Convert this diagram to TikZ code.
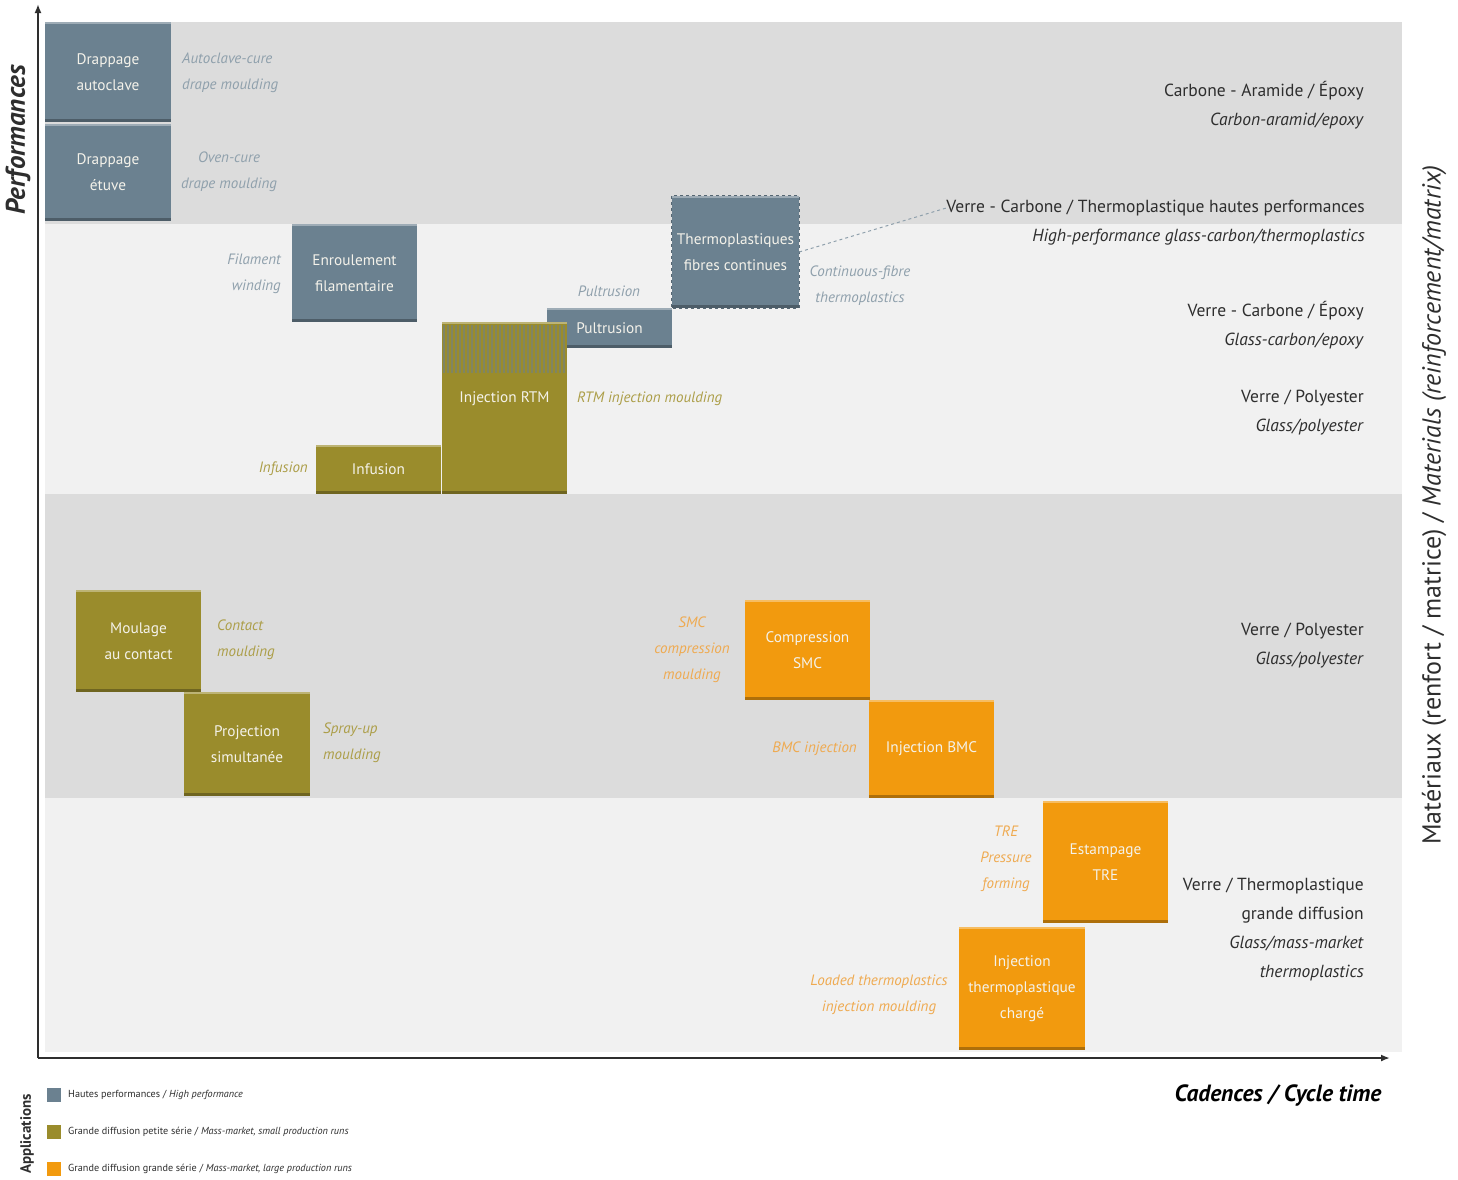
\documentclass[tikz,border=0pt]{standalone}
\usepackage{fontspec}
\setmainfont{PT Sans}
\usetikzlibrary{arrows.meta}
\definecolor{hp}{HTML}{6B8190}
\definecolor{sp}{HTML}{9A8C2C}
\definecolor{lp}{HTML}{F29A0E}
\definecolor{banddark}{HTML}{DCDCDC}
\definecolor{bandlight}{HTML}{F1F1F1}
\definecolor{lblhpc}{HTML}{8FA0AC}
\definecolor{lblspc}{HTML}{AC9E48}
\definecolor{lblorc}{HTML}{EFAA50}
\definecolor{mattxt}{HTML}{2E2E2E}
\definecolor{boxtxtc}{HTML}{F4F2EA}
\tikzset{
  proc/.style={fill=#1, text=boxtxtc, align=center, inner sep=0pt,
    font=\fontsize{15.3}{26}\selectfont,
    path picture={
      \fill[#1!72!black] (path picture bounding box.south west) rectangle ([yshift=3pt]path picture bounding box.south east);
      \fill[white, opacity=0.35] (path picture bounding box.north west) rectangle ([yshift=-2pt]path picture bounding box.north east);
    }},
  lbl/.style={inner sep=0pt, font=\fontsize{15}{26}\selectfont\itshape, text=#1},
  mat/.style={inner sep=0pt, text=mattxt, align=right, anchor=east, font=\fontsize{17.5}{29}\selectfont},
  legsq/.style={fill=#1, minimum size=14pt, inner sep=0pt},
  legtxt/.style={inner sep=0pt, anchor=west, text=mattxt, font=\fontsize{10.2}{12}\selectfont},
  axis/.style={draw=mattxt, line width=1.8pt}
}
\begin{document}
\begin{tikzpicture}[x=1pt,y=-1pt]
\useasboundingbox[fill=white] (0,0) rectangle (1458,1179);
% bands
\fill[banddark] (45,22) rectangle (1402,224);
\fill[bandlight] (45,224) rectangle (1402,494);
\fill[banddark] (45,494) rectangle (1402,798);
\fill[bandlight] (45,798) rectangle (1402,1052);

% axes
\coordinate (o) at (38,1058);
\coordinate (ytop) at (38,4);
\coordinate (xend) at (1390,1058);
\draw[axis, -{Latex[length=9pt,width=7pt]}] (o) -- (ytop);
\draw[axis, -{Latex[length=9pt,width=7pt]}] (o) -- (xend);

% high performance boxes
\node[proc=hp, minimum width=126pt, minimum height=100pt] (da) at (108,72) {Drappage\\autoclave};
\node[proc=hp, minimum width=126pt, minimum height=97pt] (de) at (108,172.5) {Drappage\\étuve};
\node[proc=hp, minimum width=125pt, minimum height=98pt] (ef) at (354.5,273) {Enroulement\\filamentaire};
\node[proc=hp, minimum width=125pt, minimum height=40pt] (pu) at (609.5,328) {Pultrusion};
\node[proc=hp, minimum width=127pt, minimum height=112pt] (tfc) at (735.5,252) {Thermoplastiques\\fibres continues};
\draw[draw=hp!80!black, dashed, line width=1pt] (tfc.north west) rectangle (tfc.south east);

% small series boxes
\node[proc=sp, minimum width=125pt, minimum height=49pt] (inf) at (378.5,469.5) {Infusion};
\node[proc=sp, minimum width=125pt, minimum height=172pt] (rtm) at (504.5,408) {};
\foreach \xx in {444,448,...,566} {
  \draw[hp, opacity=0.55, line width=1.6pt] (\xx,325) -- (\xx,373);
}
\node[text=boxtxtc, inner sep=0pt, font=\fontsize{15.3}{26}\selectfont] (rtmt) at (504.5,399) {Injection RTM};
\node[proc=sp, minimum width=125pt, minimum height=102pt] (mc) at (138.5,641) {Moulage\\au contact};
\node[proc=sp, minimum width=126pt, minimum height=104pt] (ps) at (247,744) {Projection\\simultanée};

% large series boxes
\node[proc=lp, minimum width=125pt, minimum height=100pt] (csmc) at (807.5,650) {Compression\\SMC};
\node[proc=lp, minimum width=125pt, minimum height=98pt] (ibmc) at (931.5,749) {Injection BMC};
\node[proc=lp, minimum width=125pt, minimum height=122pt] (etre) at (1105.5,862) {Estampage\\TRE};
\node[proc=lp, minimum width=126pt, minimum height=123pt] (itc) at (1022,988.5) {Injection\\thermoplastique\\chargé};

% english labels
\node[lbl=lblhpc, anchor=west, align=left] (l1) at (182,73) {Autoclave-cure\\drape moulding};
\node[lbl=lblhpc, align=center] (l2) at (229,172) {Oven-cure\\drape moulding};
\node[lbl=lblhpc, anchor=east, align=right] (l3) at (281,274) {Filament\\winding};
\node[lbl=lblhpc] (l4) at (609,291) {Pultrusion};
\node[lbl=lblhpc, align=center] (l5) at (860,286) {Continuous-fibre\\thermoplastics};
\node[lbl=lblspc, anchor=west] (l6) at (577,399) {RTM injection moulding};
\node[lbl=lblspc, anchor=east] (l7) at (308,469) {Infusion};
\node[lbl=lblspc, anchor=west, align=left] (l8) at (217,640) {Contact\\moulding};
\node[lbl=lblspc, anchor=west, align=left] (l9) at (323,743) {Spray-up\\moulding};
\node[lbl=lblorc, align=center] (l10) at (692,650) {SMC\\compression\\moulding};
\node[lbl=lblorc, anchor=east] (l11) at (857,749) {BMC injection};
\node[lbl=lblorc, align=center] (l12) at (1006,859) {TRE\\Pressure\\forming};
\node[lbl=lblorc, align=center] (l13) at (879,995) {Loaded thermoplastics\\injection moulding};

% materials
\node[mat] (m1) at (1364,105.5) {Carbone - Aramide / Époxy\\\textit{Carbon-aramid/epoxy}};
\node[mat] (vct) at (1365,208) {Verre - Carbone / Thermoplastique hautes performances};
\node[mat] (vcte) at (1365,237) {\textit{High-performance glass-carbon/thermoplastics}};
\node[mat] (m3) at (1364,325.5) {Verre - Carbone / Époxy\\\textit{Glass-carbon/epoxy}};
\node[mat] (m4) at (1364,412.5) {Verre / Polyester\\\textit{Glass/polyester}};
\node[mat] (m5) at (1364,646) {Verre / Polyester\\\textit{Glass/polyester}};
\node[mat] (m6) at (1364,930) {Verre / Thermoplastique\\grande diffusion\\\textit{Glass/mass-market}\\\textit{thermoplastics}};
\draw[lblhpc, dashed, line width=1pt] (tfc.east) -- (vct.west);

% axis titles
\node[rotate=90, inner sep=0pt, text=mattxt, font=\fontsize{27}{30}\selectfont\bfseries\itshape] (perf) at (18,140) {Performances};
\node[rotate=90, inner sep=0pt, text=mattxt, font=\fontsize{26}{30}\selectfont] (matax) at (1434,505) {Matériaux (renfort / matrice) / \textit{Materials (reinforcement/matrix)}};
\node[inner sep=0pt, text=black, font=\fontsize{23.5}{28}\selectfont\bfseries\itshape] (cad) at (1278,1095) {Cadences / Cycle time};

% legend
\node[rotate=90, inner sep=0pt, text=mattxt, font=\fontsize{15}{17}\selectfont\bfseries] (app) at (27,1134) {Applications};
\node[legsq=hp] (q1) at (54,1095) {};
\node[legsq=sp] (q2) at (54,1132) {};
\node[legsq=lp] (q3) at (54,1169) {};
\node[legtxt] (t1) at (68,1095) {Hautes performances / \textit{High performance}};
\node[legtxt] (t2) at (68,1132) {Grande diffusion petite série / \textit{Mass-market, small production runs}};
\node[legtxt] (t3) at (68,1169) {Grande diffusion grande série / \textit{Mass-market, large production runs}};
\end{tikzpicture}
\end{document}
